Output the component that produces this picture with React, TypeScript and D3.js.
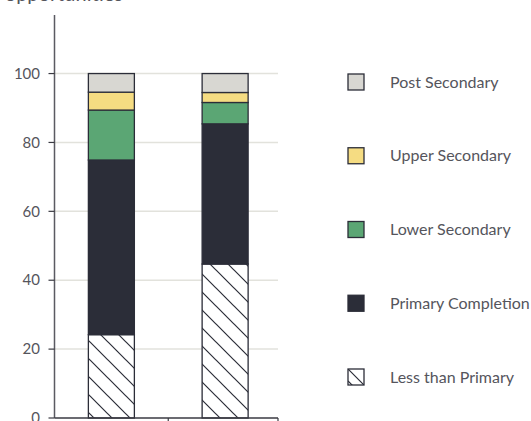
import React from "react";
import * as d3 from "d3";

const categories = ["Group 1", "Group 2"];
const seriesNames = ["Less than Primary", "Primary Completion", "Lower Secondary", "Upper Secondary", "Post Secondary"];
const lessThanPrimary = [24.2, 44.7];
const primaryCompletion = [50.7, 40.7];
const lowerSecondary = [14.5, 6.2];
const upperSecondary = [5.2, 2.9];
const postSecondary = [5.4, 5.5];
const yTicks = [0, 20, 40, 60, 80, 100];
const colors = ["url(#hatch)", "#2b2d38", "#5ba674", "#f5dc82", "#d8d7d2"];

const W = 531, H = 421;
const left = 54.5, right = 278, bottom = 418, top = 15;

export default function App() {
  const y = d3.scaleLinear().domain([0, 117]).range([bottom, top]);
  const x = d3.scaleBand().domain(categories).range([left, 282]).paddingInner(0).paddingOuter(0);
  const barW = 46;
  const rows = categories.map((c, i) => ({
    cat: c,
    "Less than Primary": lessThanPrimary[i],
    "Primary Completion": primaryCompletion[i],
    "Lower Secondary": lowerSecondary[i],
    "Upper Secondary": upperSecondary[i],
    "Post Secondary": postSecondary[i],
  }));
  const stacked = d3.stack<any>().keys(seriesNames)(rows);
  const legendOrder = [...seriesNames].reverse();
  const legendY = d3.scalePoint().domain(legendOrder).range([82, 377]);
  const font = "Lato, 'Open Sans', sans-serif";
  const textColor = "#55555c";
  const dark = "#2b2d38";
  return (
    <svg width={W} height={H} style={{ position: "absolute", left: 0, top: 0 }} fontFamily={font}>
      <defs>
        <pattern id="hatch" patternUnits="userSpaceOnUse" width={18} height={18}>
          <rect width={18} height={18} fill="#fff" />
          <path d="M0,0 L18,18 M-9,9 L9,27 M9,-9 L27,9" stroke={dark} strokeWidth={1.2} />
        </pattern>
        <pattern id="hatchLegend" patternUnits="objectBoundingBox" width={1} height={1}>
          <rect width={17} height={17} fill="#fff" />
          <path d="M0,0 L17,17 M0,12 L5,17" stroke={dark} strokeWidth={1.2} />
        </pattern>
      </defs>
      <text x={123} y={1} textAnchor="end" fontSize={20} fill={textColor}>opportunities</text>
      {yTicks.filter(t => t > 0).map(t => (
        <line key={t} x1={left} x2={right} y1={y(t)} y2={y(t)} stroke="#e2e2dc" strokeWidth={1.5} />
      ))}
      {stacked.map((s, si) => (
        <g key={s.key}>
          {s.map((d, i) => (
            <rect key={i} x={(x(categories[i]) as number) + x.bandwidth() / 2 - barW / 2} width={barW}
              y={y(d[1])} height={y(d[0]) - y(d[1])}
              fill={colors[si]} stroke={dark} strokeWidth={1.3} />
          ))}
        </g>
      ))}
      <line x1={left} x2={left} y1={top} y2={bottom} stroke="#5a5a62" strokeWidth={1.5} />
      <line x1={left} x2={right} y1={bottom} y2={bottom} stroke="#3a3a42" strokeWidth={1.5} />
      {[x(categories[1]) as number, right].map((tx, i) => (
        <line key={i} x1={tx} x2={tx} y1={bottom} y2={bottom + 6} stroke="#3a3a42" strokeWidth={1.2} />
      ))}
      {yTicks.map(t => (
        <g key={t}>
          <line x1={left - 6} x2={left} y1={y(t)} y2={y(t)} stroke="#3a3a42" strokeWidth={1.2} />
          <text x={40} y={y(t)} dy="0.35em" textAnchor="end" fontSize={15} fill={textColor}>{t}</text>
        </g>
      ))}
      {legendOrder.map(name => {
        const ly = legendY(name) as number;
        const idx = seriesNames.indexOf(name);
        return (
          <g key={name}>
            <rect x={348} y={ly - 8} width={16} height={16}
              fill={idx === 0 ? "url(#hatchLegend)" : colors[idx]} stroke={dark} strokeWidth={1.3} />
            <text x={390} y={ly} dy="0.35em" fontSize={16} fill={textColor}>{name}</text>
          </g>
        );
      })}
    </svg>
  );
}
